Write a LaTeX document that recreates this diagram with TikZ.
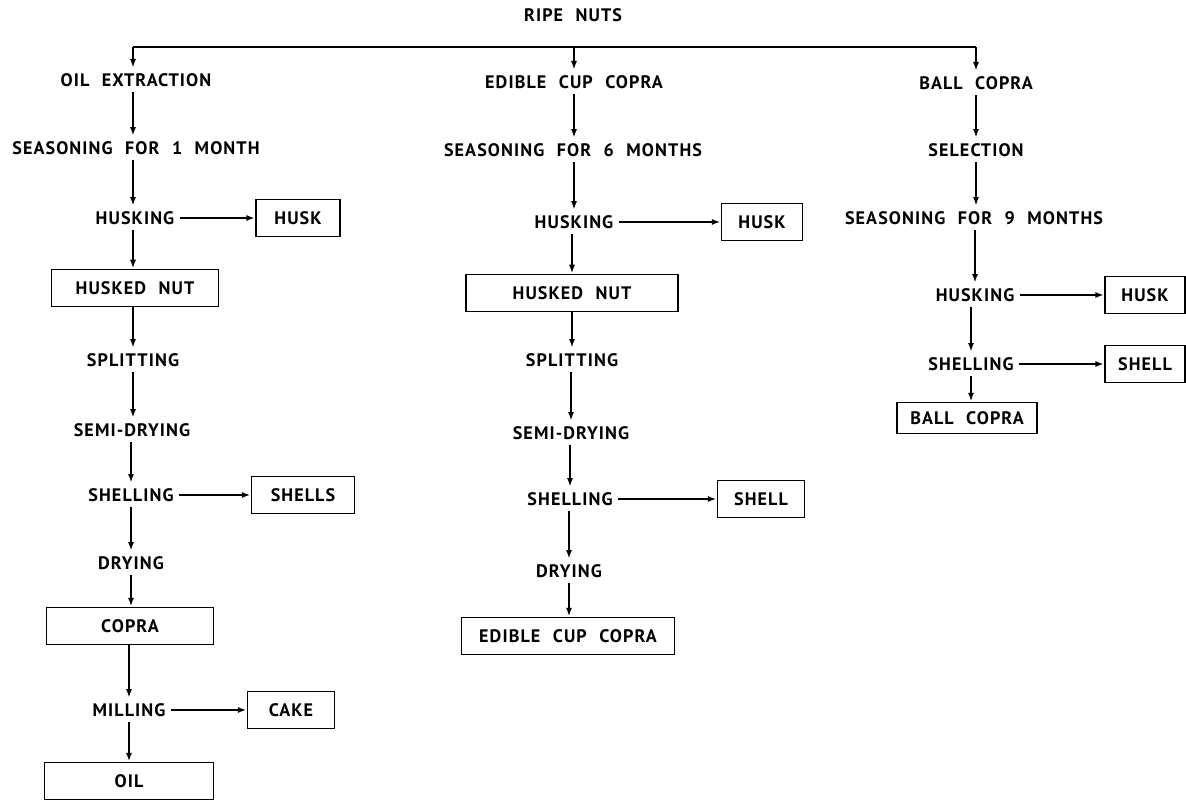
\documentclass[tikz,border=0pt]{standalone}
\usepackage{fontspec}
\setsansfont{PT Sans}[LetterSpace=6, WordSpace=2.2]
\usetikzlibrary{arrows.meta}
\begin{document}
\begin{tikzpicture}[x=0.02cm,y=-0.02cm,
  font=\sffamily\bfseries\fontsize{10.3}{11}\selectfont,
  lbl/.style={inner sep=3pt},
  box/.style={draw, line width=1.1pt, minimum height=0.74cm, inner sep=2pt},
  arr/.style={-{Latex[length=5pt,width=3.5pt]}, line width=1.1pt},
  ln/.style={line width=1.1pt}]
\useasboundingbox (0,0) rectangle (1186,803);

\node[lbl] (ripe) at (573,15) {RIPE NUTS};
\coordinate (cL) at (133,47);
\coordinate (cM) at (574,47);
\coordinate (cR) at (976,47);
\draw[ln] (cL) -- (cM) -- (cR);

% left column
\node[lbl] (oilx) at (136,80) {OIL EXTRACTION};
\node[lbl] (seas1) at (136,148) {SEASONING FOR 1 MONTH};
\node[lbl] (husk1) at (135,218) {HUSKING};
\coordinate (xL) at (133,0);
\node[box, minimum width=3.34cm] (hnut1) at (135,288) {HUSKED NUT};
\node[lbl] (split1) at (133,360) {SPLITTING};
\node[lbl] (semi1) at (132,430) {SEMI-DRYING};
\node[lbl] (shel1) at (131,495) {SHELLING};
\node[lbl] (dry1) at (131,563) {DRYING};
\node[box, minimum width=3.34cm] (copra) at (130,626) {COPRA};
\node[lbl] (mill) at (129,710) {MILLING};
\node[box, minimum width=3.38cm] (oil) at (129,781) {OIL};
\node[box, minimum width=1.68cm] (huskb1) at (298,218) {HUSK};
\node[box, minimum width=2.06cm] (shellsb) at (303,495) {SHELLS};
\node[box, minimum width=1.74cm] (cake) at (291,710) {CAKE};

\draw[arr] (cL) -- (cL |- oilx.north);
\draw[arr] (oilx.south -| xL) -- (seas1.north -| xL);
\draw[arr] (seas1.south -| xL) -- (husk1.north -| xL);
\draw[arr] (husk1.south -| xL) -- (hnut1.north -| xL);
\draw[arr] (hnut1.south -| split1) -- (split1);
\draw[arr] (split1) -- (split1 |- semi1.north);
\draw[arr] (semi1.south -| shel1) -- (shel1);
\draw[arr] (shel1) -- (dry1);
\draw[arr] (dry1) -- (dry1 |- copra.north);
\draw[arr] (copra.south -| mill) -- (mill);
\draw[arr] (mill) -- (oil);
\draw[arr] (husk1) -- (huskb1);
\draw[arr] (shel1) -- (shellsb);
\draw[arr] (mill) -- (cake);

% middle column
\node[lbl] (ecc) at (574,82) {EDIBLE CUP COPRA};
\node[lbl] (seas2) at (573,150) {SEASONING FOR 6 MONTHS};
\node[lbl] (husk2) at (574,222) {HUSKING};
\node[box, minimum width=4.24cm] (hnut2) at (572,293) {HUSKED NUT};
\node[lbl] (split2) at (572,360) {SPLITTING};
\node[lbl] (semi2) at (571,433) {SEMI-DRYING};
\node[lbl] (shel2) at (570,499) {SHELLING};
\node[lbl] (dry2) at (569,571) {DRYING};
\node[box, minimum width=4.26cm] (eccb) at (568,636) {EDIBLE CUP COPRA};
\node[box, minimum width=1.62cm] (huskb2) at (762,222) {HUSK};
\node[box, minimum width=1.74cm] (shellb2) at (761,499) {SHELL};

\draw[arr] (cM) -- (cM |- ecc.north);
\draw[arr] (ecc.south -| cM) -- (cM |- seas2.north);
\draw[arr] (seas2.south -| cM) -- (cM |- husk2.north);
\draw[arr] (husk2.south -| hnut2) -- (hnut2);
\draw[arr] (hnut2.south -| split2) -- (split2);
\draw[arr] (split2.south -| semi2) -- (semi2);
\draw[arr] (semi2.south -| shel2) -- (shel2);
\draw[arr] (shel2.south -| dry2) -- (dry2);
\draw[arr] (dry2) -- (dry2 |- eccb.north);
\draw[arr] (husk2) -- (huskb2);
\draw[arr] (shel2) -- (shellb2);

% right column
\node[lbl] (ballx) at (976,83) {BALL COPRA};
\node[lbl] (sel) at (976,150) {SELECTION};
\node[lbl] (seas3) at (974,218) {SEASONING FOR 9 MONTHS};
\node[lbl] (husk3) at (975,295) {HUSKING};
\node[lbl] (shel3) at (971,364) {SHELLING};
\node[box, minimum width=2.8cm, minimum height=0.62cm] (ballb) at (967,418) {BALL COPRA};
\node[box, minimum width=1.6cm] (huskb3) at (1145,295) {HUSK};
\node[box, minimum width=1.6cm] (shellb3) at (1145,364) {SHELL};

\draw[arr] (cR) -- (cR |- ballx.north);
\draw[arr] (ballx.south -| cR) -- (cR |- sel.north);
\draw[arr] (sel.south -| cR) -- (cR |- seas3.north);
\draw[arr] (seas3.south -| husk3) -- (husk3);
\draw[arr] (husk3.south -| shel3) -- (shel3);
\draw[arr] (shel3) -- (shel3 |- ballb.north);
\draw[arr] (husk3) -- (huskb3);
\draw[arr] (shel3) -- (shellb3);
\end{tikzpicture}
\end{document}
